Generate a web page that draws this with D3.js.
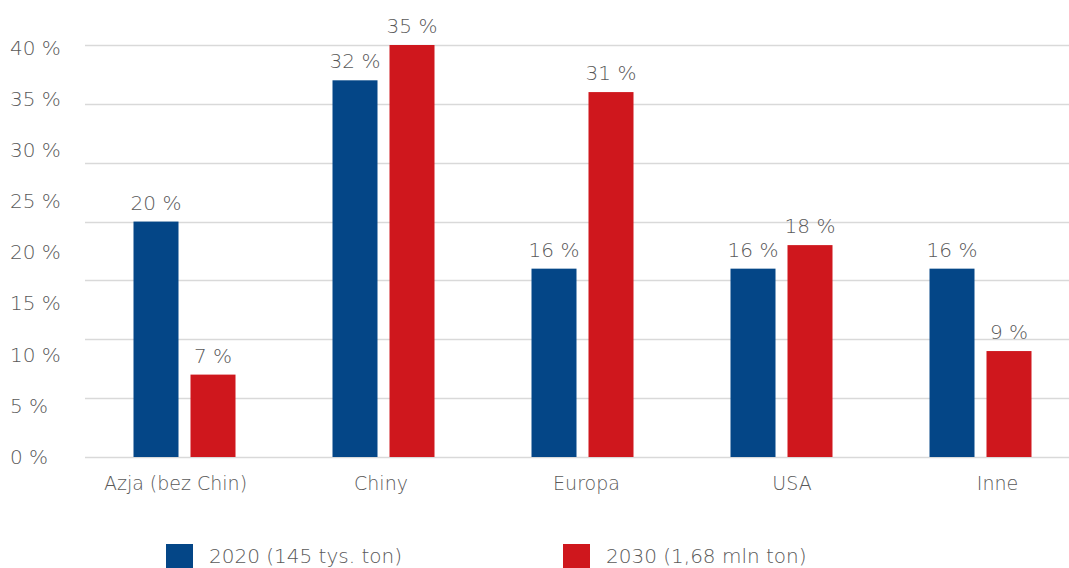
<!DOCTYPE html>
<html>
<head>
<meta charset="utf-8">
<script src="https://cdn.jsdelivr.net/npm/d3@7"></script>
<style>
  html, body { margin: 0; padding: 0; background: #fff; }
  svg text { font-family: "DejaVu Sans", sans-serif; font-weight: 300; fill: #595959; }
</style>
</head>
<body>
<svg id="chart" width="1069" height="568"></svg>
<script>
const categories = ["Azja (bez Chin)", "Chiny", "Europa", "USA", "Inne"];
const seriesNames = ["2020 (145 tys. ton)", "2030 (1,68 mln ton)"];
const values2020 = [20, 32, 16, 16, 16];
const values2030 = [7, 35, 31, 18, 9];
const gridTicks = [0, 5, 10, 15, 20, 25, 30, 35];
const axisTickLabels = [0, 5, 10, 15, 20, 25, 30, 35, 40];
const colors = ["#044687", "#cf171d"];

const svg = d3.select("#chart");
const W = 1069;

// value scale used for bars and gridlines
const y = d3.scaleLinear().domain([0, 35]).range([457, 45]);
// label scale (axis labels are distributed over 0–40 in the original)
const yLab = d3.scaleLinear().domain([0, 40]).range([457, 47.5]);

const x = d3.scaleBand().domain(categories).range([85, 1080]).paddingInner(0);
const keys = ["2020", "2030"];
const x1 = d3.scaleBand().domain(keys).range([-51, 51]).paddingInner(12 / 57);
// category label positions
const xLab = d3.scalePoint().domain(categories).range([175.5, 997.5]);

// gridlines
svg.append("g").selectAll("line").data(gridTicks).join("line")
  .attr("x1", 85).attr("x2", W)
  .attr("y1", d => Math.round(y(d)) + 0.5).attr("y2", d => Math.round(y(d)) + 0.5)
  .attr("stroke", "#d9d9d9").attr("stroke-width", 1.3);

// y axis labels
svg.append("g").selectAll("text").data(axisTickLabels).join("text")
  .attr("x", 10).attr("y", d => yLab(d))
  .attr("dy", "0.35em")
  .attr("font-size", 20)
  .text(d => d + " %");

const data = categories.map((c, i) => ({ cat: c, vals: [values2020[i], values2030[i]] }));

const groups = svg.append("g").selectAll("g").data(data).join("g")
  .attr("transform", d => `translate(${x(d.cat) + x.bandwidth() / 2},0)`);

groups.selectAll("rect").data(d => d.vals.map((v, j) => ({ k: keys[j], v, j }))).join("rect")
  .attr("x", d => x1(d.k))
  .attr("width", x1.bandwidth())
  .attr("y", d => y(d.v))
  .attr("height", d => y(0) - y(d.v))
  .attr("fill", d => colors[d.j]);

groups.selectAll("text").data(d => d.vals.map((v, j) => ({ k: keys[j], v, j }))).join("text")
  .attr("x", d => x1(d.k) + x1.bandwidth() / 2)
  .attr("y", d => y(d.v) - 12)
  .attr("text-anchor", "middle")
  .attr("font-size", 20)
  .text(d => d.v + " %");

// category labels
svg.append("g").selectAll("text").data(categories).join("text")
  .attr("x", d => xLab(d)).attr("y", 490)
  .attr("text-anchor", "middle")
  .attr("font-size", 19)
  .text(d => d);

// legend
const legendX = d3.scaleOrdinal().domain(seriesNames).range([166, 563]);
const leg = svg.append("g").selectAll("g").data(seriesNames).join("g")
  .attr("transform", d => `translate(${legendX(d)},544)`);
leg.append("rect").attr("width", 27).attr("height", 24).attr("fill", (d, i) => colors[i]);
leg.append("text").attr("x", 43).attr("y", 12).attr("dy", "0.35em")
  .attr("font-size", 20).text(d => d);
</script>
</body>
</html>
